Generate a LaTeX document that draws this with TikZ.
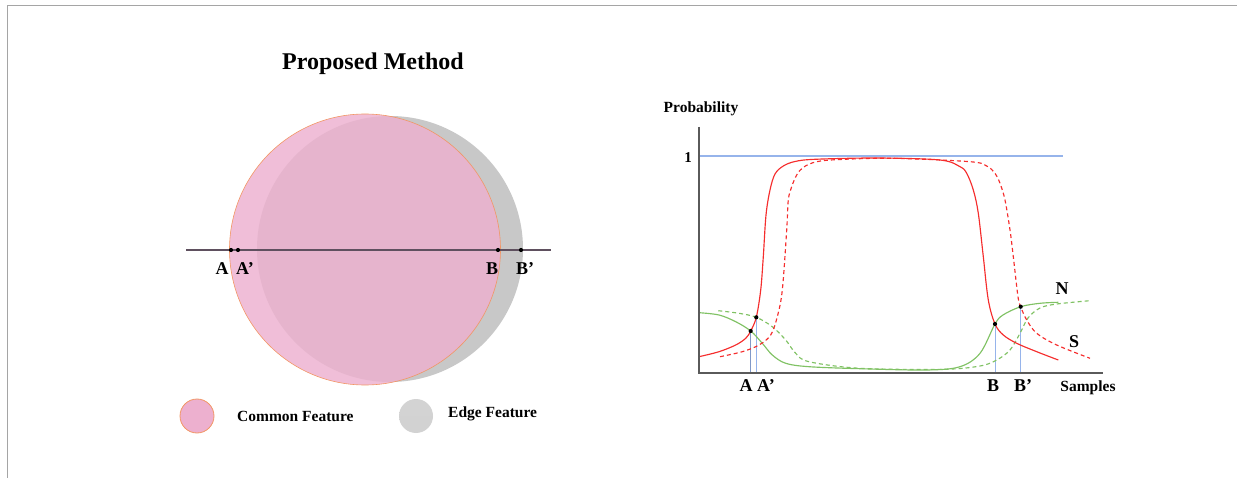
\documentclass[tikz,border=0pt]{standalone}
\usepackage{fontspec}
\setmainfont{Liberation Serif}
\definecolor{pinkf}{RGB}{237,176,207}
\definecolor{grayf}{RGB}{200,200,200}
\definecolor{orl}{RGB}{242,150,100}
\definecolor{rd}{RGB}{245,45,45}
\definecolor{gn}{RGB}{128,194,100}
\definecolor{bl}{RGB}{150,180,235}
\definecolor{axc}{RGB}{90,90,90}
\definecolor{linec}{RGB}{95,80,95}
\definecolor{framec}{RGB}{165,165,165}
\begin{document}
\begin{tikzpicture}[x=1pt,y=-1pt,
  lbl/.style={font=\fontsize{18}{20}\selectfont\bfseries, inner sep=0pt},
  leg/.style={font=\fontsize{15.5}{18}\selectfont\bfseries, inner sep=0pt, anchor=west},
  dot/.style={circle, fill=black, inner sep=0pt, minimum size=4.2pt},
  curve/.style={line width=1.15pt, smooth, tension=0.55},
  vline/.style={bl, line width=0.7pt}]
\useasboundingbox (0,0) rectangle (1237,478);
% frame
\draw[framec, line width=0.8pt] (7,478) -- (7,5) -- (1237,5);
% title
\node[font=\fontsize{24}{28}\selectfont\bfseries] (title) at (373,64) {Proposed Method};
% circles
\node[circle, fill=grayf, minimum size=266pt, inner sep=0pt] (edgec) at (390,249) {};
\node[circle, fill=pinkf, fill opacity=0.82, draw=orl, line width=0.6pt, minimum size=271pt, inner sep=0pt] (commc) at (365,249.5) {};
% horizontal line
\coordinate (hl) at (186,250);
\coordinate (hr) at (551,250);
\draw[linec, line width=1.3pt] (hl) -- (hr);
\node[dot] (dA) at (231,250) {};
\node[dot] (dAp) at (238,250) {};
\node[dot] (dB) at (498,250) {};
\node[dot] (dBp) at (521,250) {};
\node[lbl] (lA) at (222,269) {A};
\node[lbl] (lAp) at (245,269) {A’};
\node[lbl] (lB) at (492,269) {B};
\node[lbl] (lBp) at (525,269) {B’};
% legend
\node[circle, fill=pinkf, draw=orl, line width=0.8pt, minimum size=34pt, inner sep=0pt] (legp) at (197,416) {};
\node[leg] (legpt) at (237,416) {Common Feature};
\node[circle, top color=grayf!80, bottom color=grayf!105!black, minimum size=34pt, inner sep=0pt] (legg) at (416,416) {};
\node[leg] (leggt) at (448,414) {Edge Feature};
% graph axes
\coordinate (ytop) at (699,127);
\coordinate (orig) at (699,373);
\coordinate (xend) at (1103,373);
\coordinate (oneL) at (699,156);
\coordinate (oneR) at (1063,156);
\draw[vline, line width=1.1pt] (oneL) -- (oneR);
\node[font=\fontsize{15.5}{18}\selectfont\bfseries, inner sep=0pt] (prob) at (701,109) {Probability};
\node[font=\fontsize{15}{18}\selectfont\bfseries, inner sep=0pt] (one) at (688,158) {1};
% vertical thin lines
\coordinate (vA) at (750.7,373);
\coordinate (vAp) at (756.3,373);
\coordinate (vB) at (995,373);
\coordinate (vBp) at (1020.7,373);
\coordinate (pA) at (750.7,331);
\coordinate (pAp) at (756.3,317.3);
\coordinate (pB) at (995,324);
\coordinate (pBp) at (1020.7,306.7);
\draw[vline, bl!85!black] (pA) -- (vA);
\draw[vline] (pAp) -- (vAp);
\draw[vline] (pB) -- (vB);
\draw[vline] (pBp) -- (vBp);
% curves
\draw[curve, gn, dashed, dash pattern=on 4pt off 3pt] plot coordinates {(718.3,310.7) (739,313.3) (756.3,317.3) (772.3,326.7) (785.7,340) (795.7,353.3) (809,361.7) (860,368.3) (943.3,369.3) (980,366) (996.7,360) (1010,350) (1020,333.3) (1028,318) (1040,308) (1056.7,304) (1090,300.7)};
\draw[curve, gn] plot coordinates {(699,312.7) (719,315) (735.7,321.7) (750.7,331) (762.3,343.3) (772.3,355) (785.7,363.3) (809,366.7) (860,368.7) (926.7,370) (960,366.7) (980,353.3) (995,324) (1003,315) (1020.7,306.7) (1040,303.3) (1058.3,302.3)};
\draw[curve, rd, dashed, dash pattern=on 4pt off 3pt] plot coordinates {(720,356.7) (742.3,351.7) (759,345) (770.7,335) (777.3,316.7) (782.3,290) (786.7,230) (788.3,200) (791.7,186.7) (796.7,175) (803.3,167.3) (816.7,161.7) (840,159.5) (893.3,158.3) (970,161.7) (986.7,166) (995,173.3) (1000,183.3) (1005,200) (1010,230) (1013.3,256.7) (1018,296.7) (1020.7,306.7) (1026.7,320) (1036.7,333.3) (1056.7,345) (1090,358.3)};
\draw[curve, rd] plot coordinates {(699,356.7) (719,351.7) (735.7,345) (745.7,338.3) (750.7,331) (756.3,317.3) (760.7,290) (763.3,256.7) (766,215) (770,190) (775,174) (783.3,166) (795,161.5) (815,159.3) (876.7,158) (940,160) (960,166.7) (966.7,173.3) (973.3,190) (978.3,213.3) (983.3,256.7) (988.3,300) (995,324) (1003.3,335) (1016.7,343.3) (1036.7,351.7) (1058.3,360)};
\draw[axc, line width=1.2pt] (ytop) -- (orig) -- (xend);
\node[dot] (gA) at (pA) {};
\node[dot] (gAp) at (pAp) {};
\node[dot] (gB) at (pB) {};
\node[dot] (gBp) at (pBp) {};
% graph labels
\node[lbl] (tA) at (746,386) {A};
\node[lbl] (tAp) at (766,386) {A’};
\node[lbl] (tB) at (993,386) {B};
\node[lbl] (tBp) at (1023,386) {B’};
\node[font=\fontsize{15.5}{18}\selectfont\bfseries, inner sep=0pt] (samp) at (1088,388) {Samples};
\node[lbl] (tN) at (1062,289) {N};
\node[lbl] (tS) at (1074,342) {S};
\end{tikzpicture}
\end{document}
